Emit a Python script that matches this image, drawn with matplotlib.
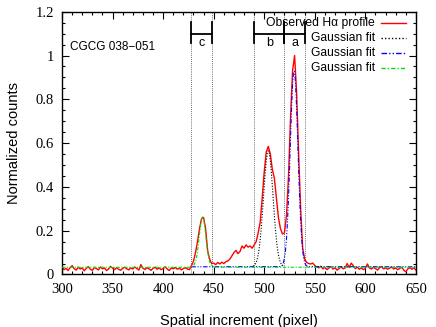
import matplotlib
matplotlib.use("Agg")
import matplotlib.pyplot as plt
from matplotlib.ticker import MultipleLocator, FuncFormatter

# observed H-alpha profile, read every 2 pixels from 300 to 650
obs_x = list(range(300, 652, 2))
obs_y = [
    0.035, 0.022, 0.028, 0.018, 0.031, 0.040, 0.027, 0.020, 0.033, 0.025,   # 300-318
    0.030, 0.017, 0.028, 0.036, 0.024, 0.019, 0.032, 0.027, 0.021, 0.034,   # 320-338
    0.026, 0.030, 0.018, 0.025, 0.037, 0.029, 0.022, 0.031, 0.024, 0.019,   # 340-358
    0.028, 0.033, 0.026, 0.021, 0.030, 0.025, 0.034, 0.027, 0.020, 0.045,   # 360-378
    0.029, 0.023, 0.031, 0.026, 0.019, 0.028, 0.033, 0.024, 0.030, 0.022,   # 380-398
    0.027, 0.035, 0.025, 0.018, 0.030, 0.026, 0.032, 0.024, 0.029, 0.021,   # 400-418
    0.027, 0.031, 0.025, 0.022, 0.040, 0.060, 0.100, 0.150, 0.210, 0.255,   # 420-438
    0.260, 0.210, 0.110, 0.070, 0.050, 0.052, 0.045, 0.055, 0.048, 0.056,   # 440-458
    0.050, 0.058, 0.062, 0.070, 0.085, 0.100, 0.110, 0.095, 0.105, 0.130,   # 460-478
    0.120, 0.135, 0.125, 0.130, 0.120, 0.135, 0.150, 0.190, 0.240, 0.350,   # 480-498
    0.470, 0.560, 0.585, 0.550, 0.480, 0.440, 0.350, 0.260, 0.210, 0.185,   # 500-518
    0.190, 0.270, 0.450, 0.720, 0.930, 1.000, 0.830, 0.550, 0.300, 0.120,   # 520-538
    0.070, 0.055, 0.050, 0.048, 0.052, 0.040, 0.035, 0.030, 0.038, 0.026,   # 540-558
    0.032, 0.022, 0.030, 0.036, 0.025, 0.031, 0.020, 0.028, 0.034, 0.026,   # 560-578
    0.030, 0.050, 0.032, 0.052, 0.040, 0.027, 0.033, 0.024, 0.030, 0.022,   # 580-598
    0.028, 0.048, 0.030, 0.025, 0.033, 0.027, 0.020, 0.031, 0.036, 0.026,   # 600-618
    0.030, 0.024, 0.029, 0.034, 0.025, 0.030, 0.022, 0.028, 0.033, 0.020,   # 620-638
    0.012, 0.026, 0.031, 0.024, 0.030, 0.020,                               # 640-650
]

# Gaussian fit, component b (black dotted)
fit_b_x = list(range(489, 520))
fit_b_y = [0.038, 0.041, 0.047, 0.055, 0.069, 0.090, 0.120, 0.160, 0.210, 0.270,
           0.336, 0.404, 0.467, 0.519, 0.553, 0.565, 0.553, 0.519, 0.467, 0.404,
           0.336, 0.270, 0.210, 0.160, 0.120, 0.090, 0.069, 0.055, 0.047, 0.041,
           0.038]

# Gaussian fit, component a (blue)
fit_a_x = [428, 515, 517, 518, 519, 520, 521, 522, 523, 524, 525, 526, 527, 528,
           529, 530, 531, 532, 533, 534, 535, 536, 537, 538, 539, 540, 541, 542,
           544, 650]
fit_a_y = [0.035, 0.036, 0.039, 0.044, 0.055, 0.075, 0.109, 0.164, 0.244, 0.351,
           0.481, 0.624, 0.760, 0.868, 0.927, 0.927, 0.868, 0.760, 0.624, 0.481,
           0.351, 0.244, 0.164, 0.109, 0.075, 0.055, 0.044, 0.039, 0.036, 0.035]

# Gaussian fit, component c (green)
fit_c_x = [300, 425, 428, 430, 432, 433, 434, 435, 436, 437, 438, 439, 440, 441,
           442, 443, 444, 445, 446, 448, 450, 452, 650]
fit_c_y = [0.033, 0.033, 0.035, 0.040, 0.057, 0.077, 0.106, 0.143, 0.185, 0.224,
           0.253, 0.263, 0.253, 0.224, 0.185, 0.143, 0.106, 0.077, 0.057, 0.040,
           0.035, 0.033, 0.033]

# region boundaries and labels
bounds = [428, 448, 490, 520, 540]
regions = [("c", 428, 448), ("b", 490, 520), ("a", 520, 540)]

serif = "Liberation Serif"
sans = "Liberation Sans"

fig = plt.figure(figsize=(4.36, 3.27), dpi=100)
ax = fig.add_axes([0.1422, 0.1606, 0.8118, 0.8036])

for b in bounds:
    ax.axvline(b, color="0.25", ls=(0, (1, 1.5)), lw=0.6, zorder=1)

ax.plot(obs_x, obs_y, color="red", lw=1.0, zorder=2)
ax.plot(fit_b_x, fit_b_y, color="black", ls=(0, (1, 1.5)), lw=0.8, zorder=3)
ax.plot(fit_a_x, fit_a_y, color="blue", ls=(0, (4, 1.5, 1, 1.5, 1, 1.5)), lw=0.8, zorder=3)
ax.plot(fit_c_x, fit_c_y, color="#00dd00", ls=(0, (3, 1.5, 1, 1.5)), lw=0.8, zorder=4)

# brackets marking the regions
for lab, x0, x1 in regions:
    ax.plot([x0, x1], [1.10, 1.10], color="black", lw=1.3, zorder=5)
    ax.plot([x0, x0], [1.055, 1.155], color="black", lw=1.3, zorder=5)
    ax.plot([x1, x1], [1.055, 1.155], color="black", lw=1.3, zorder=5)
    ax.text((x0 + x1) / 2, 1.057, lab, ha="center", va="center",
            fontsize=9, family=sans, zorder=5)

ax.text(308, 1.04, "CGCG 038\u2212051", fontsize=8.5, family=sans,
        ha="left", va="center")

# gnuplot-like key, text right-justified with sample on the right
key_labels = ["Observed H\u03b1 profile", "Gaussian fit", "Gaussian fit", "Gaussian fit"]
key_colors = ["red", "black", "blue", "#00dd00"]
key_styles = ["-", (0, (1, 1.5)), (0, (4, 1.5, 1, 1.5, 1, 1.5)), (0, (3, 1.5, 1, 1.5))]
key_rows = [0.957, 0.900, 0.843, 0.786]
for lab, col, st, yy in zip(key_labels, key_colors, key_styles, key_rows):
    ax.text(0.884, yy, lab, transform=ax.transAxes, ha="right", va="center",
            fontsize=8.7, family=sans, zorder=6)
    ax.plot([0.901, 0.972], [yy, yy], transform=ax.transAxes, color=col,
            ls=st, lw=1.0, zorder=6)

ax.set_xlim(300, 650)
ax.set_ylim(0, 1.2)
ax.xaxis.set_major_locator(MultipleLocator(50))
ax.xaxis.set_minor_locator(MultipleLocator(10))
ax.yaxis.set_major_locator(MultipleLocator(0.2))
ax.yaxis.set_minor_locator(MultipleLocator(0.05))
ax.yaxis.set_major_formatter(FuncFormatter(lambda v, p: "%g" % round(v, 2)))
ax.tick_params(which="both", direction="in", top=True, right=True, width=0.8)
ax.tick_params(which="major", length=5, pad=6, labelsize=10.5)
ax.tick_params(which="minor", length=2.5)
for lab in ax.get_xticklabels() + ax.get_yticklabels():
    lab.set_family(serif)
for s in ax.spines.values():
    s.set_linewidth(1.0)

ax.set_xlabel("Spatial increment (pixel)", fontsize=10.5, family=sans, labelpad=13)
ax.set_ylabel("Normalized counts", fontsize=10.5, family=sans, labelpad=10)

fig.savefig("out.png", dpi=100)
